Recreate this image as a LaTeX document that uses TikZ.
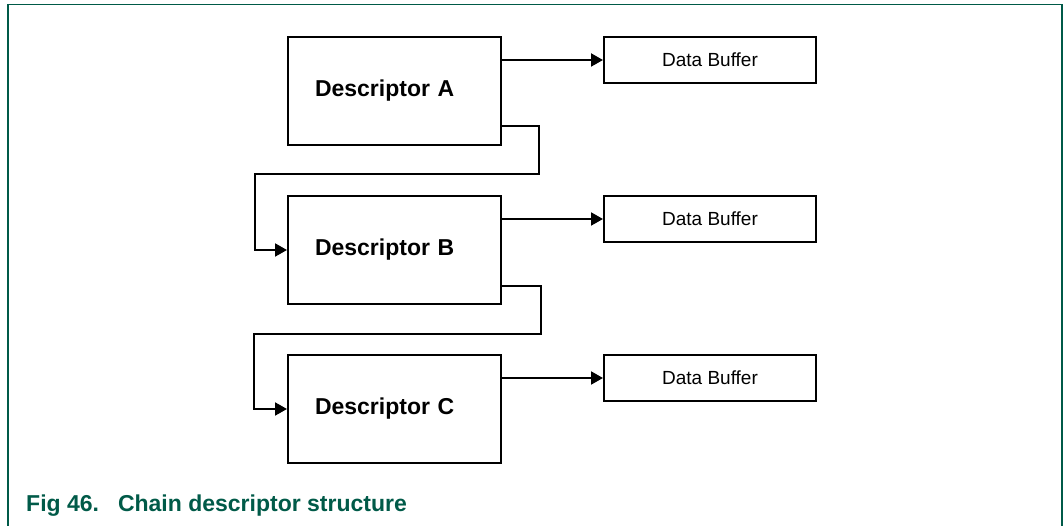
\documentclass[tikz,border=0pt]{standalone}
\usepackage{fontspec}
\setmainfont{Liberation Sans}
\usepackage{tikz}
\usetikzlibrary{positioning,arrows.meta}

\definecolor{nxpgreen}{RGB}{0,90,72}

\begin{document}
\begin{tikzpicture}[
    x=1pt, y=1pt,
    node distance=49pt and 101pt,
    descbox/.style={draw,line width=2pt,minimum width=213pt,minimum height=108pt,
        inner sep=0pt,text width=159pt,align=left,
        font=\fontsize{23}{27}\selectfont\bfseries},
    bufbox/.style={draw,line width=2pt,minimum width=212pt,minimum height=46pt,
        inner sep=0pt,font=\fontsize{19}{23}\selectfont},
    link/.style={line width=2pt},
    >={Triangle[length=12pt,width=13pt]}
]
\useasboundingbox (0,0) rectangle (1063,-526);

% figure frame, open at the bottom
\draw[nxpgreen,line width=1.5pt] (8,-526) -- (8,-4.5) -- (1062,-4.5) -- (1062,-526);

\node[descbox] (descA) at (394.5,-91) {Descriptor A};
\node[descbox] (descB) [below=of descA] {Descriptor B};
\node[descbox] (descC) [below=of descB] {Descriptor C};

\node[bufbox] (bufA) [right=of descA.north east,anchor=north west] {Data Buffer};
\node[bufbox] (bufB) [right=of descB.north east,anchor=north west] {Data Buffer};
\node[bufbox] (bufC) [right=of descC.north east,anchor=north west] {Data Buffer};

\draw[link,->] (bufA.west -| descA.east) -- (bufA.west);
\draw[link,->] (bufB.west -| descB.east) -- (bufB.west);
\draw[link,->] (bufC.west -| descC.east) -- (bufC.west);

% next-descriptor links
\draw[link,->] ([yshift=20pt]descA.south east) -- ++(37,0) -- ++(0,-48)
    -| ([xshift=-32pt]descB.west) -- (descB.west);
\draw[link,->] ([yshift=19pt]descB.south east) -- ++(39,0) -- ++(0,-48)
    -| ([xshift=-33pt]descC.west) -- (descC.west);

\node[anchor=base west,inner sep=0pt,text=nxpgreen,
    font=\fontsize{23}{27}\selectfont\bfseries] (caption) at (26,-511)
    {Fig 46.\hspace{19pt}Chain descriptor structure};

\end{tikzpicture}
\end{document}
